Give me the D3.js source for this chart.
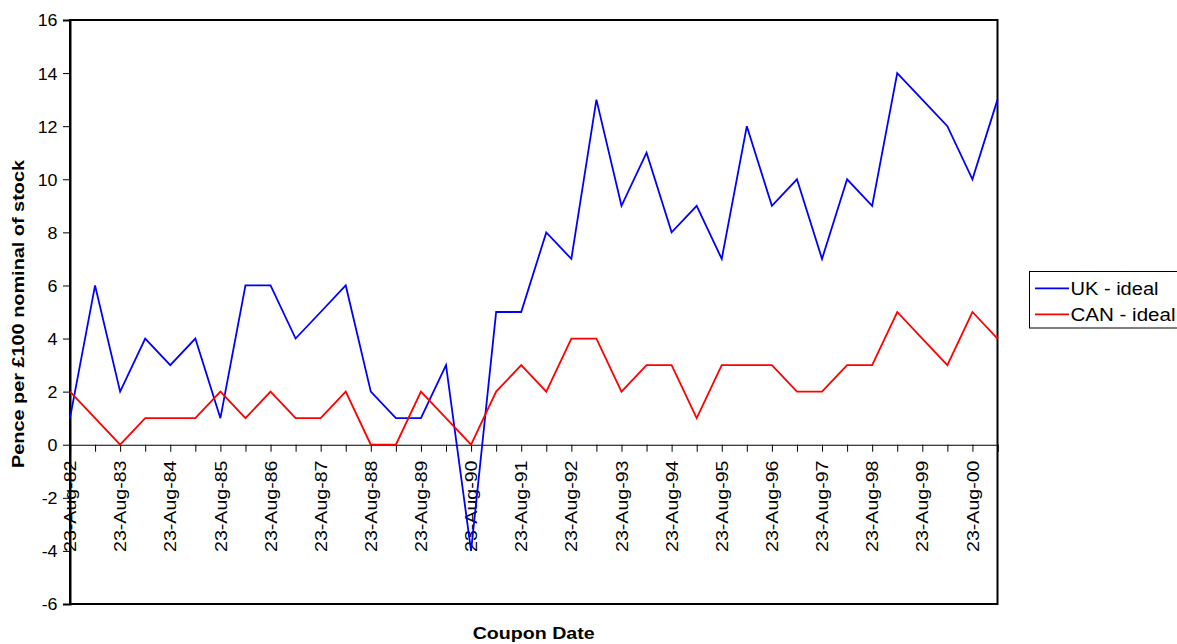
<!DOCTYPE html>
<html>
<head>
<meta charset="utf-8">
<script src="https://cdn.jsdelivr.net/npm/d3@7"></script>
<style>
  html, body { margin: 0; padding: 0; background: #fff; }
  svg { display: block; font-family: "Liberation Sans", Arial, Helvetica, sans-serif; }
</style>
</head>
<body>
<svg id="chart" width="1177" height="644"></svg>
<script>
// Coupon dates (semi-annual) and coupon values, pence per £100 nominal
const couponDates = [
  "23-Aug-82","23-Feb-83","23-Aug-83","23-Feb-84","23-Aug-84","23-Feb-85",
  "23-Aug-85","23-Feb-86","23-Aug-86","23-Feb-87","23-Aug-87","23-Feb-88",
  "23-Aug-88","23-Feb-89","23-Aug-89","23-Feb-90","23-Aug-90","23-Feb-91",
  "23-Aug-91","23-Feb-92","23-Aug-92","23-Feb-93","23-Aug-93","23-Feb-94",
  "23-Aug-94","23-Feb-95","23-Aug-95","23-Feb-96","23-Aug-96","23-Feb-97",
  "23-Aug-97","23-Feb-98","23-Aug-98","23-Feb-99","23-Aug-99","23-Feb-00",
  "23-Aug-00","23-Feb-01"
];
const ukIdeal = [1,6,2,4,3,4,1,6,6,4,5,6,2,1,1,3,-4,5,5,8,7,13,9,11,8,9,7,12,9,10,7,10,9,14,13,12,10,13];
const canIdeal = [2,1,0,1,1,1,2,1,2,1,1,2,0,0,2,1,0,2,3,2,4,4,2,3,3,1,3,3,3,2,2,3,3,5,4,3,5,4];
const yTickValues = [-6,-4,-2,0,2,4,6,8,10,12,14,16];
const seriesNames = ["UK - ideal", "CAN - ideal"];
const seriesColors = ["#0000ff", "#ff0000"];

const svg = d3.select("#chart");
const plot = { left: 70, right: 997.5, top: 20, bottom: 604 };

const x = d3.scalePoint().domain(couponDates).range([plot.left, plot.right]);
const y = d3.scaleLinear().domain([-6, 16]).range([plot.bottom, plot.top]);

// widen text along its reading direction by factor k
function stretch(sel, k) {
  sel.each(function () {
    const len = this.getComputedTextLength();
    d3.select(this).attr("textLength", len * k).attr("lengthAdjust", "spacingAndGlyphs");
  });
}

// plot frame
svg.append("rect")
  .attr("x", plot.left).attr("y", plot.top)
  .attr("width", plot.right - plot.left).attr("height", plot.bottom - plot.top)
  .attr("fill", "none").attr("stroke", "#000").attr("stroke-width", 2);

// y axis
const yAxis = svg.append("g")
  .attr("transform", `translate(${plot.left},0)`)
  .call(d3.axisLeft(y).tickValues(yTickValues).tickSize(7).tickPadding(5).tickFormat(d => String(d)));
yAxis.select(".domain").attr("stroke", "#000").attr("stroke-width", 2);
yAxis.selectAll(".tick line").attr("stroke", "#000").attr("stroke-width", 1);
yAxis.selectAll(".tick text")
  .attr("font-size", 17).attr("fill", "#000")
  .attr("font-family", "Liberation Sans, Arial, sans-serif")
  .attr("x", -12.5).attr("dy", "0.35em");
stretch(yAxis.selectAll(".tick text"), 1.05);

// category axis on the zero line
const xAxis = svg.append("g")
  .attr("transform", `translate(0,${y(0)})`)
  .call(d3.axisBottom(x).tickSize(7).tickFormat(""));
xAxis.select(".domain").attr("stroke", "#000").attr("stroke-width", 1.2);
xAxis.selectAll(".tick line").attr("stroke", "#000").attr("stroke-width", 1);

// date labels, every second coupon date
svg.append("g").selectAll("text")
  .data(couponDates.filter((d, i) => i % 2 === 0))
  .join("text")
  .attr("transform", d => `translate(${x(d)},460.5) rotate(-90)`)
  .attr("text-anchor", "end")
  .attr("dy", "0.36em")
  .attr("font-size", 17)
  .attr("font-family", "Liberation Sans, Arial, sans-serif")
  .attr("fill", "#000")
  .attr("textLength", 91.5)
  .attr("lengthAdjust", "spacingAndGlyphs")
  .text(d => d);

// series lines
const line = d3.line().x((d, i) => x(couponDates[i])).y(d => y(d));
[ukIdeal, canIdeal].forEach((vals, k) => {
  svg.append("path")
    .datum(vals)
    .attr("fill", "none")
    .attr("stroke", seriesColors[k])
    .attr("stroke-width", 1.8)
    .attr("stroke-linejoin", "miter")
    .attr("d", line);
});

// axis titles
svg.append("text")
  .attr("x", 533.7).attr("y", 639.3)
  .attr("text-anchor", "middle")
  .attr("font-size", 17).attr("font-weight", "bold")
  .attr("textLength", 122).attr("lengthAdjust", "spacingAndGlyphs")
  .text("Coupon Date");

svg.append("text")
  .attr("transform", "translate(24,314) rotate(-90)")
  .attr("text-anchor", "middle")
  .attr("font-size", 16).attr("font-weight", "bold")
  .attr("textLength", 308).attr("lengthAdjust", "spacingAndGlyphs")
  .text("Pence per £100 nominal of stock");

// legend
const legend = svg.append("g");
legend.append("rect")
  .attr("x", 1029.5).attr("y", 271.5).attr("width", 170).attr("height", 56.5)
  .attr("fill", "#fff").attr("stroke", "#000").attr("stroke-width", 1);
const legendRows = [288.3, 314.3];
const legendLengths = [88, 105];
seriesNames.forEach((name, k) => {
  legend.append("line")
    .attr("x1", 1035).attr("x2", 1069)
    .attr("y1", legendRows[k]).attr("y2", legendRows[k])
    .attr("stroke", seriesColors[k]).attr("stroke-width", 1.8);
  legend.append("text")
    .attr("x", 1070.5).attr("y", legendRows[k]).attr("dy", "0.36em")
    .attr("font-size", 17.5)
    .attr("textLength", legendLengths[k]).attr("lengthAdjust", "spacingAndGlyphs")
    .text(name);
});
</script>
</body>
</html>
